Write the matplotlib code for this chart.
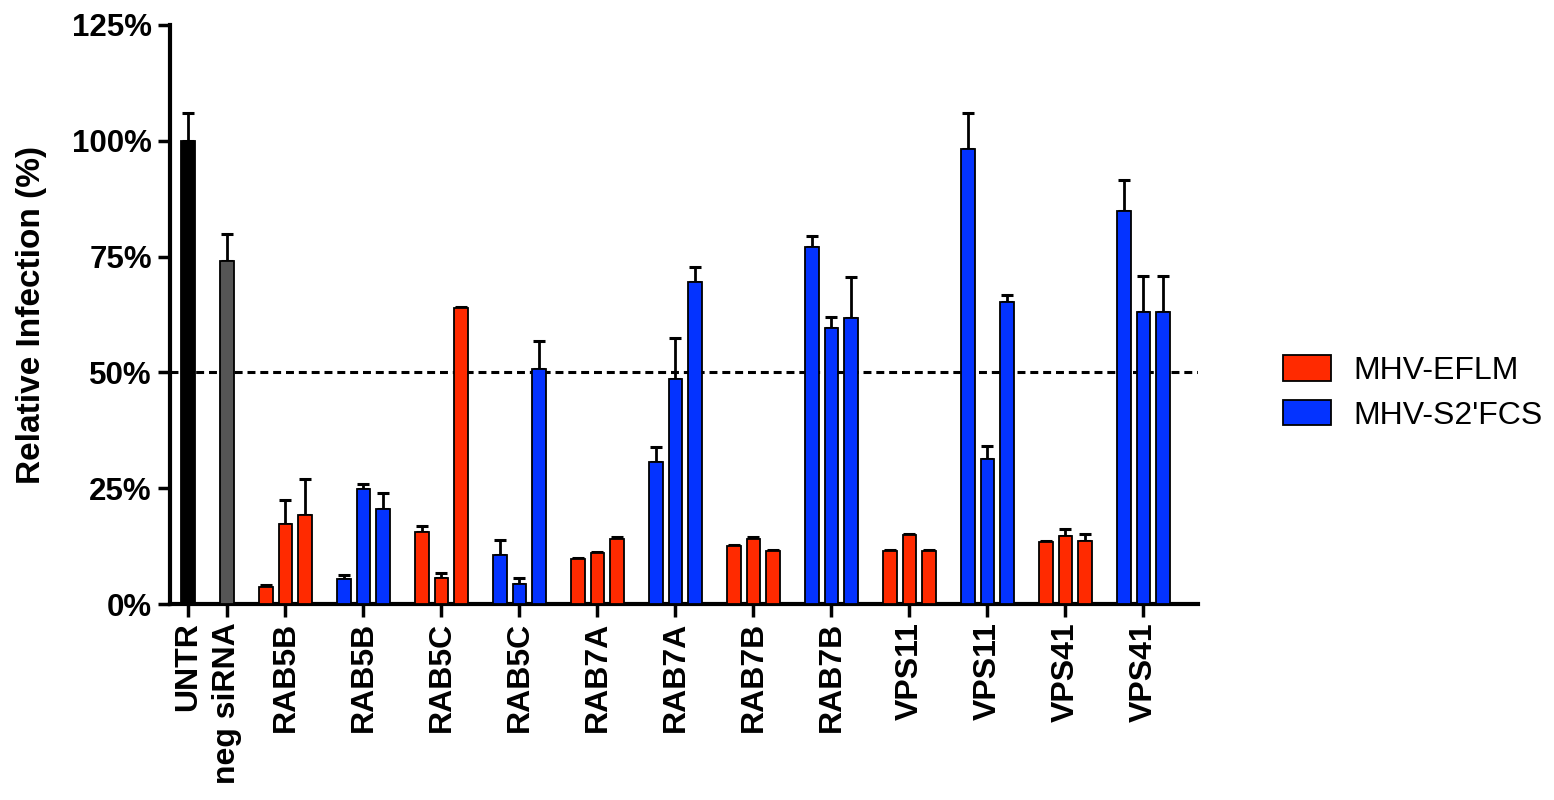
import numpy as np
import matplotlib
matplotlib.use("Agg")
import matplotlib.pyplot as plt
from matplotlib.patches import Patch

plt.rcParams['font.family'] = ['Liberation Sans', 'DejaVu Sans']

# ---- data ----
ctrl_labels = ["UNTR", "neg siRNA"]
ctrl_values = [100.0, 74.0]
ctrl_errors = [6.0, 5.8]

group_labels = ["RAB5B", "RAB5B", "RAB5C", "RAB5C", "RAB7A", "RAB7A",
                "RAB7B", "RAB7B", "VPS11", "VPS11", "VPS41", "VPS41"]
group_virus = ["EFLM", "S2", "EFLM", "S2", "EFLM", "S2",
               "EFLM", "S2", "EFLM", "S2", "EFLM", "S2"]
group_values = [
    [3.6, 17.2, 19.2],
    [5.3, 24.8, 20.6],
    [15.6, 5.7, 64.0],
    [10.5, 4.3, 50.8],
    [9.8, 11.0, 14.1],
    [30.7, 48.6, 69.5],
    [12.5, 14.1, 11.5],
    [77.1, 59.6, 61.7],
    [11.5, 14.8, 11.5],
    [98.3, 31.3, 65.1],
    [13.3, 14.7, 13.6],
    [84.9, 63.1, 63.1],
]
group_errors = [
    [0.5, 5.2, 7.7],
    [0.9, 1.1, 3.3],
    [1.3, 0.9, 0.2],
    [3.4, 1.3, 5.9],
    [0.2, 0.3, 0.4],
    [3.2, 8.9, 3.3],
    [0.2, 0.3, 0.2],
    [2.4, 2.4, 9.0],
    [0.2, 0.4, 0.2],
    [7.7, 2.9, 1.6],
    [0.3, 1.4, 1.5],
    [6.7, 7.7, 7.7],
]
threshold = 50

RED = '#ff2a00'
BLUE = '#0433ff'
virus_color = {"EFLM": RED, "S2": BLUE}
legend_names = ["MHV-EFLM", "MHV-S2'FCS"]

fig = plt.figure(figsize=(15.54, 8.0), dpi=100)
ax = fig.add_axes([170 / 1554, 196 / 800, 1028 / 1554, 579 / 800])

bw = 0.68
err_kw = dict(fmt='none', ecolor='black', elinewidth=2.0, capsize=4, capthick=2.2, zorder=2)

# controls
ctrl_x = [0, 2]
ax.bar(ctrl_x, ctrl_values, width=bw, color=['black', '#555555'],
       edgecolor='black', linewidth=1.3, zorder=3)
ax.errorbar(ctrl_x, ctrl_values, yerr=[np.zeros(2), ctrl_errors], **err_kw)

# grouped knockdowns
tick_pos = list(ctrl_x)
for k, (vals, errs, virus) in enumerate(zip(group_values, group_errors, group_virus)):
    center = 5 + 4 * k
    xs = np.array([center - 1, center, center + 1])
    ax.bar(xs, vals, width=bw, color=virus_color[virus], edgecolor='black',
           linewidth=1.3, zorder=3)
    ax.errorbar(xs, vals, yerr=[np.zeros(3), errs], **err_kw)
    tick_pos.append(center)

ax.axhline(threshold, color='black', linestyle=(0, (2.6, 1.6)), linewidth=2.2, zorder=1)

ax.set_xlim(-0.92, 51.8)
ax.set_ylim(0, 125)
ax.set_yticks([0, 25, 50, 75, 100, 125])
ax.set_yticklabels([f"{v}%" for v in [0, 25, 50, 75, 100, 125]],
                   fontsize=22.5, fontweight='bold')
ax.set_xticks(tick_pos)
ax.set_xticklabels(ctrl_labels + group_labels, rotation=90, fontsize=23,
                   fontweight='bold', va='top', ha='center')

for side in ['top', 'right']:
    ax.spines[side].set_visible(False)
for side in ['left', 'bottom']:
    ax.spines[side].set_linewidth(3.0)
ax.tick_params(axis='both', length=9, width=2.5, direction='out')
ax.tick_params(axis='y', pad=4)
ax.tick_params(axis='x', pad=4)

ax.set_ylabel("Relative Infection (%)", fontsize=24, fontweight='bold')
ax.yaxis.set_label_coords(-0.12, 0.5)

handles = [Patch(facecolor=RED, edgecolor='black', linewidth=1.3),
           Patch(facecolor=BLUE, edgecolor='black', linewidth=1.3)]
fig.legend(handles, legend_names, loc='center left', bbox_to_anchor=(1283 / 1554, 1 - 393 / 800),
           frameon=False, fontsize=23, handlelength=1.5, handleheight=0.85,
           handletextpad=0.7, labelspacing=0.42, borderpad=0, borderaxespad=0)

fig.savefig("out.png", dpi=100)
